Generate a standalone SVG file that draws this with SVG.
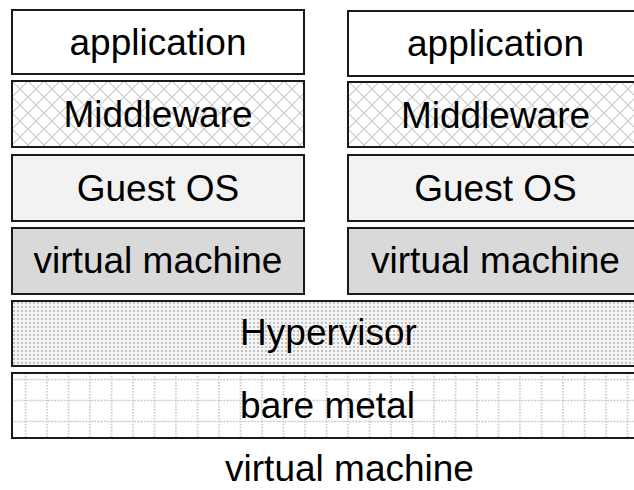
<svg xmlns="http://www.w3.org/2000/svg" width="634" height="490" viewBox="0 0 634 490">
  <defs>
    <pattern id="cross" patternUnits="userSpaceOnUse" x="12" y="81" width="16" height="16">
      <rect width="16" height="16" fill="#ffffff"/>
      <path d="M0,0 L16,16 M16,0 L0,16" stroke="#cccccc" stroke-width="1.2" fill="none"/>
    </pattern>
    <pattern id="dots" patternUnits="userSpaceOnUse" x="12" y="301" width="4" height="4">
      <rect width="4" height="4" fill="#f4f4f4"/>
      <rect x="1" y="1" width="2" height="2" fill="#c2c2c2"/>
    </pattern>
    <pattern id="grid" patternUnits="userSpaceOnUse" x="12" y="373" width="21.5" height="21">
      <rect width="21.5" height="21" fill="#ffffff"/>
      <path d="M0,6.5 H21.5 M13.5,0 V21" stroke="#c0c0c0" stroke-width="1.5" stroke-dasharray="1.5,1.5" fill="none"/>
    </pattern>
  </defs>
  <style>
    .box { stroke: #1a1a1a; stroke-width: 2; }
    .lbl { font-family: "Liberation Sans", Arial, sans-serif; font-size: 37px; fill: #000; text-anchor: middle; }
    .app { fill: #ffffff; }
    .mw { fill: url(#cross); }
    .os { fill: #f2f2f2; }
    .vm { fill: #d9d9d9; }
    .hv { fill: url(#dots); }
    .bm { fill: url(#grid); }
  </style>
  <rect width="634" height="490" fill="#ffffff"/>

  <g id="app-left">
    <rect class="box app" x="12" y="10" width="292" height="64"/>
    <text class="lbl" x="158" y="55">application</text>
  </g>
  <g id="mw-left">
    <rect class="box mw" x="12" y="81" width="292" height="66"/>
    <text class="lbl" x="158" y="127">Middleware</text>
  </g>
  <g id="os-left">
    <rect class="box os" x="12" y="155" width="292" height="66"/>
    <text class="lbl" x="158" y="201">Guest OS</text>
  </g>
  <g id="vm-left">
    <rect class="box vm" x="12" y="228" width="292" height="66"/>
    <text class="lbl" x="158" y="273">virtual machine</text>
  </g>

  <g id="app-right">
    <rect class="box app" x="348" y="11" width="295" height="65"/>
    <text class="lbl" x="495.5" y="56">application</text>
  </g>
  <g id="mw-right">
    <rect class="box mw" x="348" y="82" width="295" height="65"/>
    <text class="lbl" x="495.5" y="128">Middleware</text>
  </g>
  <g id="os-right">
    <rect class="box os" x="348" y="155" width="295" height="66"/>
    <text class="lbl" x="495.5" y="201">Guest OS</text>
  </g>
  <g id="vm-right">
    <rect class="box vm" x="348" y="228" width="295" height="66"/>
    <text class="lbl" x="495.5" y="273">virtual machine</text>
  </g>

  <g id="hypervisor">
    <rect class="box hv" x="12" y="301" width="633" height="65"/>
    <text class="lbl" x="328.5" y="345">Hypervisor</text>
  </g>
  <g id="bare-metal">
    <rect class="box bm" x="12" y="373" width="633" height="65"/>
    <text class="lbl" x="327.5" y="418">bare metal</text>
  </g>

  <g id="caption">
    <text class="lbl" x="349.5" y="481">virtual machine</text>
  </g>
</svg>
